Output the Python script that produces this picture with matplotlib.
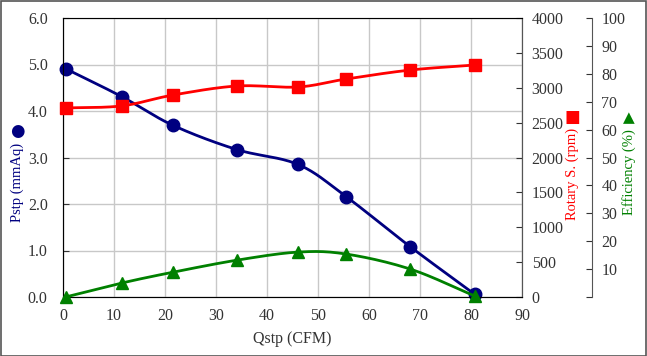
import numpy as np
import matplotlib.pyplot as plt
from matplotlib.patches import Rectangle

# Data
flow = [0.5, 11.5, 21.6, 34.1, 46.1, 55.5, 68.1, 80.7]          # Qstp (CFM)
pstp = [4.91, 4.31, 3.69, 3.17, 2.85, 2.16, 1.08, 0.06]        # mmAq
rpm = [2710, 2740, 2896, 3025, 3011, 3125, 3254, 3326]         # rpm
eff = [0.0, 5.0, 8.9, 13.2, 16.1, 15.4, 10.0, 0.4]             # %

x_ticks = list(range(0, 100, 10))
p_ticks = [0.0, 1.0, 2.0, 3.0, 4.0, 5.0, 6.0]
rpm_ticks = list(range(0, 4500, 500))
eff_ticks = list(range(10, 110, 10))


# Smooth curve through the points (like Excel's "smoothed line")
def smooth(xs, ys, n=20):
    x = np.asarray(xs, float)
    y = np.asarray(ys, float)
    px = np.concatenate([[2 * x[0] - x[1]], x, [2 * x[-1] - x[-2]]])
    py = np.concatenate([[2 * y[0] - y[1]], y, [2 * y[-1] - y[-2]]])
    out_x, out_y = [], []
    t = np.linspace(0, 1, n)
    for i in range(1, len(px) - 2):
        for arr, out in ((px, out_x), (py, out_y)):
            p0, p1, p2, p3 = arr[i - 1], arr[i], arr[i + 1], arr[i + 2]
            out.extend(0.5 * ((2 * p1) + (-p0 + p2) * t
                              + (2 * p0 - 5 * p1 + 4 * p2 - p3) * t ** 2
                              + (-p0 + 3 * p1 - 3 * p2 + p3) * t ** 3))
    return out_x, out_y


plt.rcParams['font.family'] = ['Liberation Serif', 'DejaVu Serif']
plt.rcParams['font.size'] = 11

W, H = 647, 356
fig = plt.figure(figsize=(W / 100, H / 100), dpi=100)
L, R, T, B = 63, 522, 18, 297
ax = fig.add_axes([L / W, 1 - B / H, (R - L) / W, (B - T) / H])
ax2 = ax.twinx()
ax3 = ax.twinx()

fig.patches.append(Rectangle((0.5 / W, 0.5 / H), 1 - 1.5 / W, 1 - 1.5 / H,
                             transform=fig.transFigure, fill=False,
                             edgecolor='#555555', linewidth=1.2))

tick_col = '#333333'
ax.set_xlim(0, 90)
ax.set_ylim(0, 6)
ax.set_xticks(x_ticks)
ax.set_yticks(p_ticks)
ax.set_yticklabels([f'{v:.1f}' for v in p_ticks])
ax.grid(True, color='#c8c8c8', linewidth=1)
ax.set_axisbelow(True)
ax.tick_params(colors=tick_col, labelsize=11.5, length=4, direction='in')
ax.tick_params(axis='y', pad=11)
ax.tick_params(axis='x', length=0, pad=8)
for s in ax.spines.values():
    s.set_color('#555555')
ax.spines['top'].set_color('#c8c8c8')

ax2.set_ylim(0, 4000)
ax2.set_yticks(rpm_ticks)
ax2.tick_params(colors=tick_col, labelsize=11.5, length=4, direction='in', pad=7)
ax2.spines['right'].set_color('#555555')

ax3.set_ylim(0, 100)
ax3.set_yticks([0] + eff_ticks)
ax3.set_yticklabels([''] + [str(v) for v in eff_ticks])
ax3.spines['right'].set_position(('axes', 1.152))
ax3.spines['right'].set_color('#555555')
ax3.tick_params(colors=tick_col, labelsize=11.5, length=4, direction='in', pad=7)
for s in ('top', 'left', 'bottom'):
    ax3.spines[s].set_visible(False)

sx, sy = smooth(flow, pstp)
ax.plot(sx, sy, color='#000080', linewidth=2, clip_on=False, zorder=3)
ax.plot(flow, pstp, 'o', color='#000080', markersize=9, clip_on=False, zorder=4)

sx, sy = smooth(flow, rpm)
ax2.plot(sx, sy, color='#ff0000', linewidth=2, clip_on=False, zorder=3)
ax2.plot(flow, rpm, 's', color='#ff0000', markersize=9, clip_on=False, zorder=4)

sx, sy = smooth(flow, eff)
ax3.plot(sx, sy, color='#008000', linewidth=2, clip_on=False, zorder=3)
ax3.plot(flow, eff, '^', color='#008000', markersize=9, clip_on=False, zorder=4)

ax.set_xlabel('Qstp (CFM)', color=tick_col, fontsize=11.5, labelpad=5)

# Axis titles with their marker symbols (symbol sits above the rotated text)
fig.text(17 / W, 1 - 182 / H, 'Pstp (mmAq)', rotation=90, color='#000080',
         fontsize=10.5, ha='center', va='center')
fig.text(17 / W, 1 - 131 / H, '\u25cf', color='#000080',
         fontsize=12, ha='center', va='center', family='DejaVu Sans')
fig.text(572 / W, 1 - 174 / H, 'Rotary S. (rpm)', rotation=90, color='#ff0000',
         fontsize=10.5, ha='center', va='center')
fig.text(572 / W, 1 - 117 / H, '\u25a0', color='#ff0000',
         fontsize=12, ha='center', va='center', family='DejaVu Sans')
fig.text(629 / W, 1 - 172 / H, 'Efficiency (%)', rotation=90, color='#008000',
         fontsize=10.5, ha='center', va='center')
fig.text(629 / W, 1 - 118 / H, '\u25b2', color='#008000',
         fontsize=11, ha='center', va='center', family='DejaVu Sans')

fig.savefig('out.png', dpi=100)
